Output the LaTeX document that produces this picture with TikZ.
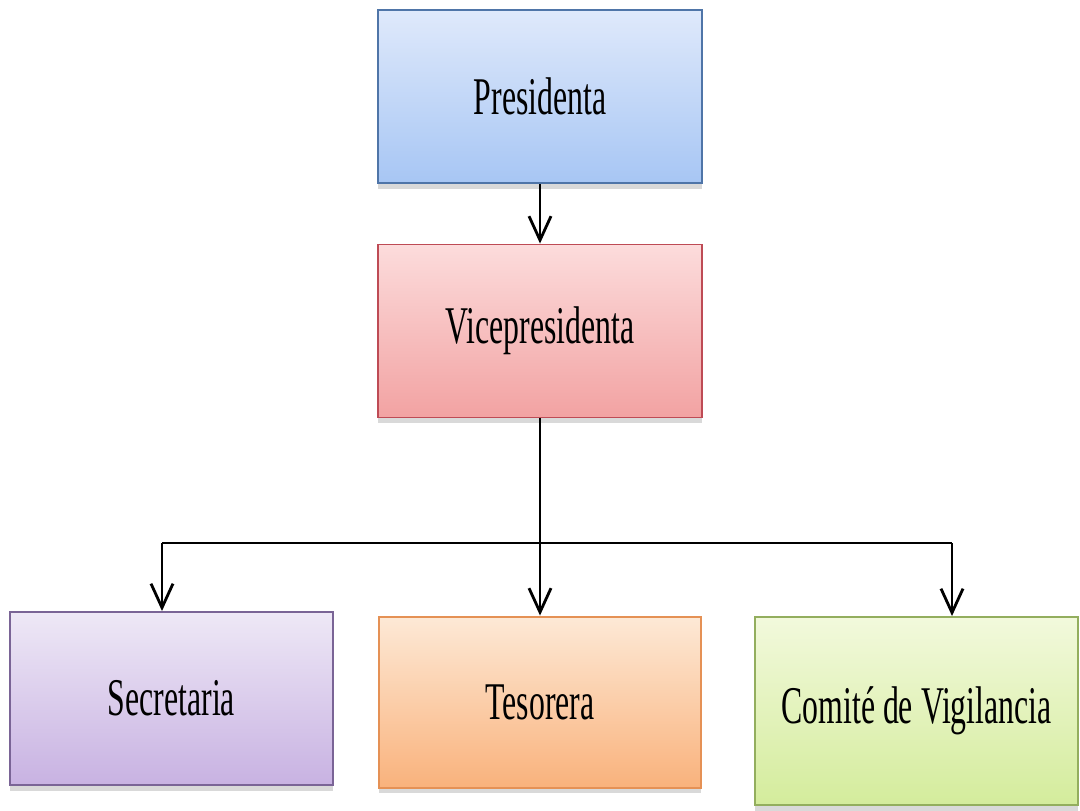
\documentclass[tikz,border=0pt]{standalone}
\usepackage{fontspec}
\setmainfont{Liberation Serif}[FakeStretch=0.6]
\usetikzlibrary{arrows.meta,shadows}

\tikzstyle{org-box}=[rectangle, inner sep=0pt, line width=1.4pt,
  minimum width=8.1cm, minimum height=4.325cm,
  drop shadow={shadow xshift=0pt, shadow yshift=-0.14cm, opacity=0.3},
  font=\fontsize{37.7}{40}\selectfont]
\tikzstyle{link}=[line width=2pt, -{Straight Barb[length=0.6cm, width=0.55cm, line width=2pt]}]
\tikzstyle{bus}=[line width=2pt]
\definecolor{presidenta-top}{HTML}{DFE9FB}
\definecolor{presidenta-bottom}{HTML}{A7C6F4}
\definecolor{presidenta-line}{HTML}{4F75A8}
\definecolor{vice-top}{HTML}{FCDCDC}
\definecolor{vice-bottom}{HTML}{F2A2A2}
\definecolor{vice-line}{HTML}{BE4B55}
\definecolor{secretaria-top}{HTML}{EEE8F6}
\definecolor{secretaria-bottom}{HTML}{C8B2E2}
\definecolor{secretaria-line}{HTML}{7A6496}
\definecolor{tesorera-top}{HTML}{FDE9D6}
\definecolor{tesorera-bottom}{HTML}{F9B27C}
\definecolor{tesorera-line}{HTML}{E59155}
\definecolor{comite-top}{HTML}{F2F9DC}
\definecolor{comite-bottom}{HTML}{D4EC9C}
\definecolor{comite-line}{HTML}{93AE5E}

\begin{document}
\begin{tikzpicture}
      \useasboundingbox (0,0) rectangle (27,-20.25);
      \node (presidenta) at (13.5, -2.4125)
            [org-box, draw=presidenta-line, top color=presidenta-top, bottom color=presidenta-bottom] {Presidenta};
      \node (vicepresidenta) at (13.5, -8.275)
            [org-box, draw=vice-line, top color=vice-top, bottom color=vice-bottom] {Vicepresidenta};
      \node (secretaria) at (4.2875, -17.4625)
            [org-box, minimum width=8.075cm, draw=secretaria-line, top color=secretaria-top, bottom color=secretaria-bottom] {Secretaria};
      \node (tesorera) at (13.5, -17.55)
            [org-box, minimum width=8.05cm, minimum height=4.275cm, draw=tesorera-line, top color=tesorera-top, bottom color=tesorera-bottom] {Tesorera};
      \node (comite) at (22.9125, -17.775)
            [org-box, minimum width=8.075cm, minimum height=4.7cm, draw=comite-line, top color=comite-top, bottom color=comite-bottom] {Comité de Vigilancia};

      \coordinate (bus-left) at (4.05, -13.575);
      \coordinate (bus-right) at (23.8, -13.575);

      \draw[link] (presidenta) -- (vicepresidenta);
      \draw[link] (vicepresidenta) -- (tesorera);
      \draw[bus] (bus-left) -- (bus-right);
      \draw[link] (bus-left) -- (bus-left |- secretaria.north);
      \draw[link] (bus-right) -- (bus-right |- comite.north);
    \end{tikzpicture}
\end{document}
